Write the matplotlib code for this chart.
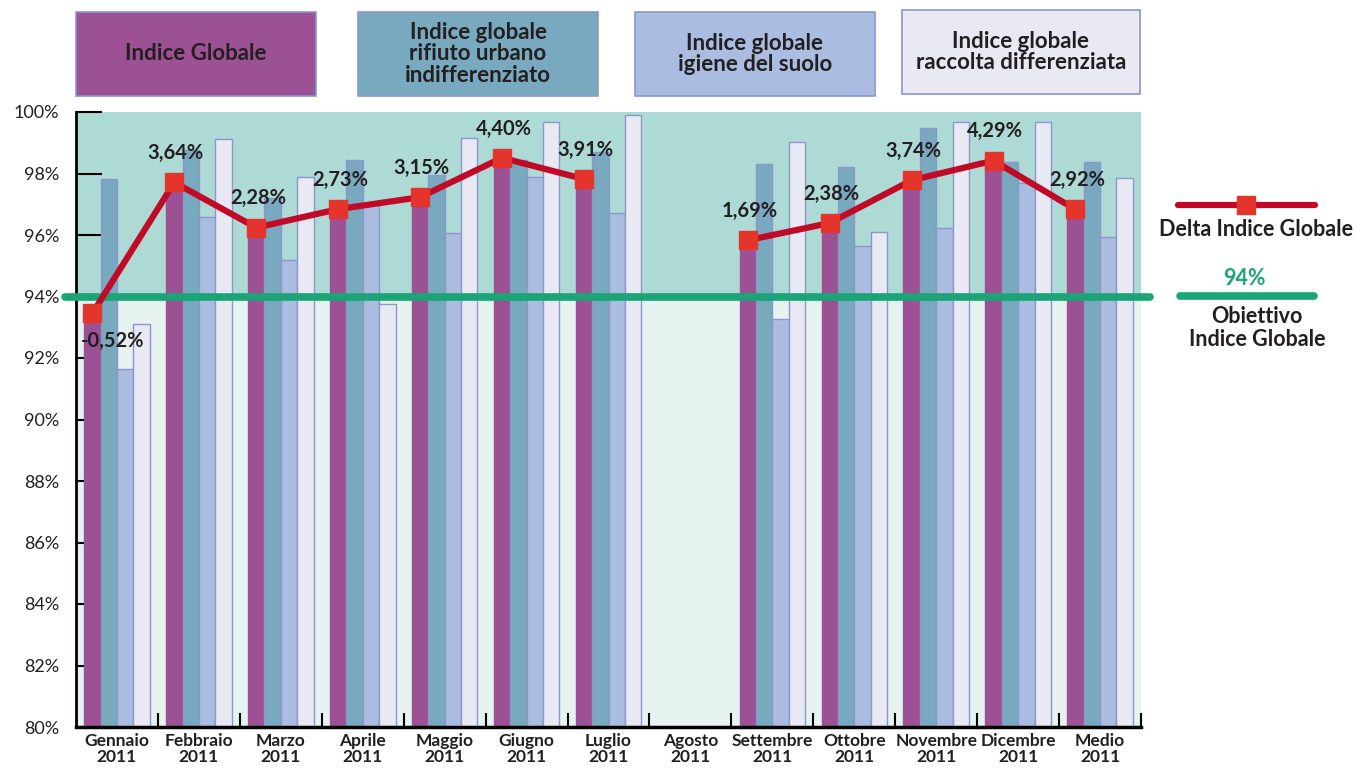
import numpy as np
import matplotlib
matplotlib.use('Agg')
import matplotlib.pyplot as plt
from matplotlib.patches import Rectangle
from matplotlib.lines import Line2D

plt.rcParams['font.family'] = ['Lato', 'DejaVu Sans']

# data
months = ['Gennaio\n2011', 'Febbraio\n2011', 'Marzo\n2011', 'Aprile\n2011', 'Maggio\n2011',
          'Giugno\n2011', 'Luglio\n2011', 'Agosto\n2011', 'Settembre\n2011', 'Ottobre\n2011',
          'Novembre\n2011', 'Dicembre\n2011', 'Medio\n2011']
indice_globale = [93.45, 97.71, 96.24, 96.84, 97.23, 98.51, 97.82, np.nan, 95.83, 96.39, 97.78, 98.42, 96.83]
rifiuto_urbano = [97.83, 98.75, 97.20, 98.43, 97.94, 98.44, 98.69, np.nan, 98.32, 98.21, 99.47, 98.39, 98.37]
igiene_suolo = [91.65, 96.57, 95.18, 97.03, 96.05, 97.89, 96.70, np.nan, 93.27, 95.64, 96.24, 97.70, 95.94]
raccolta_diff = [93.10, 99.13, 97.88, 93.74, 99.17, 99.69, 99.89, np.nan, 99.04, 96.10, 99.66, 99.66, 97.85]
delta_labels = ['-0,52%', '3,64%', '2,28%', '2,73%', '3,15%', '4,40%', '3,91%', '',
                '1,69%', '2,38%', '3,74%', '4,29%', '2,92%']
obiettivo = 94
series_names = ['Indice Globale', 'Indice globale\nrifiuto urbano\nindifferenziato',
                'Indice globale\nigiene del suolo', 'Indice globale\nraccolta differenziata']

colors = ['#9C5194', '#78A9BF', '#AABCDF', '#E9E9F4']
edge = '#8C96CC'
red_line = '#C10A27'
red_mark = '#E4342C'
green = '#1BA577'
dark = '#231F20'

W, H = 1357, 768
fig = plt.figure(figsize=(W / 100, H / 100), dpi=100)
ax = fig.add_axes([76 / W, 1 - 727 / H, (1141 - 76) / W, (727 - 112) / H])

x = np.arange(len(months))
bw = 0.2
series = [indice_globale, rifiuto_urbano, igiene_suolo, raccolta_diff]
for i, vals in enumerate(series):
    ec = colors[i] if i == 0 else edge
    ax.bar(x + (i - 1.5) * bw, vals, bw, color=colors[i], edgecolor=ec, linewidth=1, zorder=2)

ax.axhspan(obiettivo, 100, color='#AEDAD5', zorder=0.1)
ax.axhspan(80, obiettivo, color='#E6F3F1', zorder=0.1)
ax.set_axisbelow(True)

# delta line on the Indice Globale bars
xl = x - 1.5 * bw
ax.plot(xl, indice_globale, color=red_line, lw=4.5, zorder=4,
        marker='s', markersize=13, markerfacecolor=red_mark, markeredgecolor=red_mark)
for xi, v, lab in zip(xl, indice_globale, delta_labels):
    if not lab:
        continue
    if v < obiettivo:
        ax.text(xi + 0.25, v - 0.9, lab, ha='center', va='center', fontsize=14.5,
                fontweight='bold', color=dark, zorder=5)
    else:
        ax.text(xi + 0.02, v + 0.95, lab, ha='center', va='center', fontsize=14.5,
                fontweight='bold', color=dark, zorder=5)

# target line
ax.plot([-0.634, 12.61], [obiettivo, obiettivo], color=green, lw=5.5, zorder=3,
        solid_capstyle='round', clip_on=False)

ax.set_xlim(-0.5, 12.5)
ax.set_ylim(80, 100)
ax.set_yticks(np.arange(80, 101, 2))
ax.set_yticklabels([f'{v}%' for v in range(80, 101, 2)])
ax.tick_params(axis='y', direction='in', length=19, width=1.5, pad=12, labelsize=13, colors='black',
               labelcolor=dark)
ax.set_xticks(np.arange(0.5, 12.6, 1))
ax.set_xticklabels([])
ax.set_xticks(x, minor=True)
ax.set_xticklabels(months, minor=True, fontsize=12.5, fontweight='bold', color=dark, linespacing=1.0)
ax.tick_params(axis='x', which='major', direction='in', length=10, width=1.5)
ax.tick_params(axis='x', which='minor', length=0, pad=4)
for s in ['top', 'right']:
    ax.spines[s].set_visible(False)
ax.spines['left'].set_linewidth(2)
ax.spines['bottom'].set_linewidth(2.5)


def fx(px):
    return px / W


def fy(py):
    return 1 - py / H


# legend boxes on top
boxes = [(76, 12, 316, 96), (358, 12, 598, 96), (635, 12, 875, 96), (902, 10, 1140, 94)]
for (x0, y0, x1, y1), name, c in zip(boxes, series_names, colors):
    fig.add_artist(Rectangle((fx(x0), fy(y1)), fx(x1 - x0), (y1 - y0) / H,
                             facecolor=c, edgecolor=edge, lw=1.2, transform=fig.transFigure))
    fig.text(fx((x0 + x1) / 2), fy((y0 + y1) / 2), name, ha='center', va='center',
             fontsize=16, fontweight='bold', color=dark, linespacing=1.05)

# right-hand legend
fig.add_artist(Line2D([fx(1178), fx(1315)], [fy(205), fy(205)], color=red_line, lw=4.5,
                      solid_capstyle='round', transform=fig.transFigure))
fig.add_artist(Line2D([fx(1246)], [fy(205)], marker='s', markersize=13, color=red_mark,
                      transform=fig.transFigure))
fig.text(fx(1256), fy(229), 'Delta Indice Globale', ha='center', va='center',
         fontsize=15.5, fontweight='bold', color=dark)
fig.text(fx(1244), fy(278), f'{obiettivo}%', ha='center', va='center',
         fontsize=15.5, fontweight='bold', color=green)
fig.add_artist(Line2D([fx(1180), fx(1314)], [fy(296), fy(296)], color=green, lw=5.5,
                      solid_capstyle='round', transform=fig.transFigure))
fig.text(fx(1257), fy(328), 'Obiettivo\nIndice Globale', ha='center', va='center',
         fontsize=15.5, fontweight='bold', color=dark, linespacing=1.1)

fig.savefig('out.png', dpi=100)
